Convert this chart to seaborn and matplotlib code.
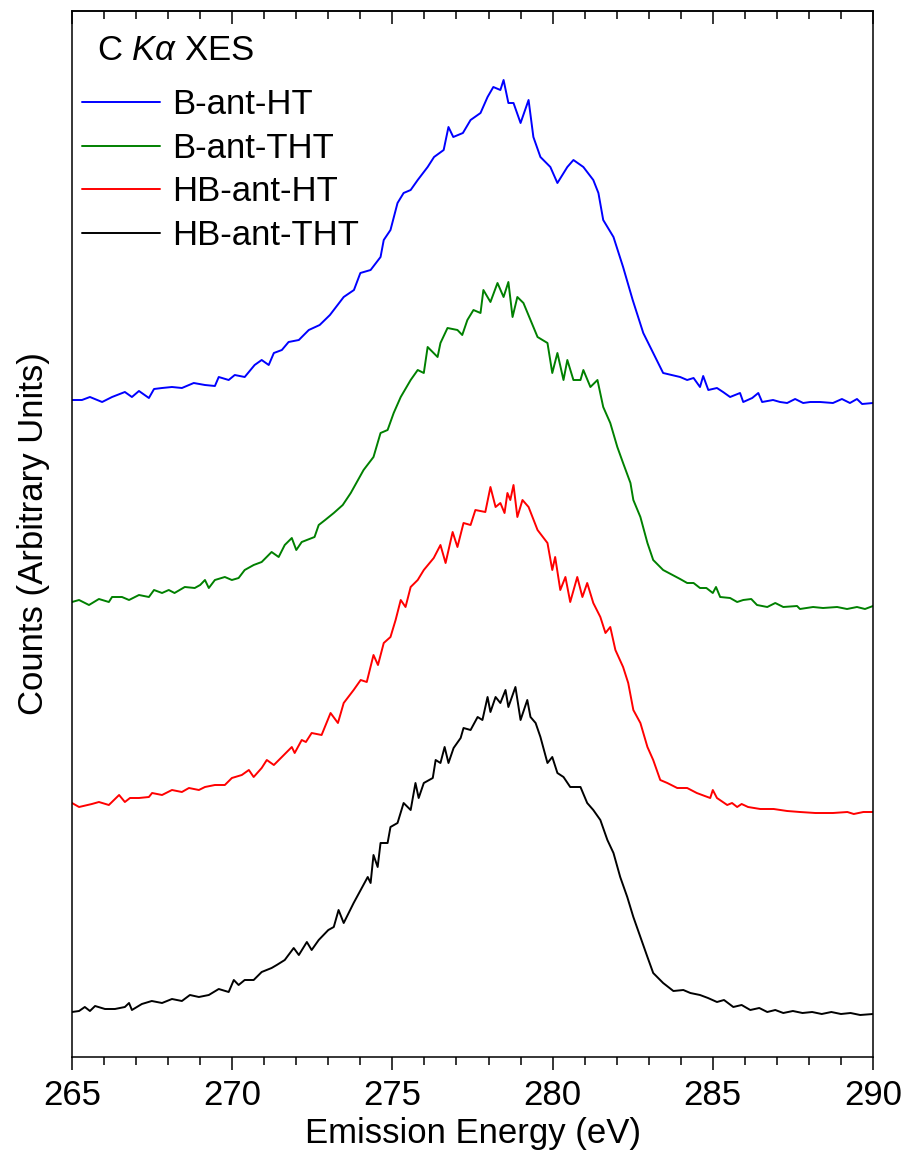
import numpy as np
import pandas as pd
import matplotlib
matplotlib.use("Agg")
import matplotlib.pyplot as plt
from matplotlib.ticker import MultipleLocator
import seaborn as sns

# ---------------- data (arbitrary units) ----------------
samples = ["B-ant-HT", "B-ant-THT", "HB-ant-HT", "HB-ant-THT"]
colors = ["#0000FF", "#008000", "#FF0000", "#000000"]

e_b_ht = [265.0, 265.31, 265.56, 265.94, 266.25, 266.65, 266.87, 267.09, 267.4, 267.56,
          267.81, 268.12, 268.43, 268.8, 269.15, 269.46, 269.58, 269.89, 270.08, 270.39,
          270.7, 270.92, 271.14, 271.3, 271.55, 271.76, 272.08, 272.39, 272.73, 273.05,
          273.48, 273.8, 274.0, 274.32, 274.63, 274.73, 274.94, 275.16, 275.35, 275.57,
          275.79, 276.1, 276.3, 276.6, 276.75, 276.9, 277.2, 277.44, 277.75, 277.97,
          278.15, 278.37, 278.47, 278.62, 278.78, 279.0, 279.25, 279.4, 279.62, 279.93,
          280.15, 280.46, 280.65, 280.96, 281.27, 281.43, 281.58, 281.9, 282.2, 282.5,
          282.83, 283.14, 283.45, 283.98, 284.2, 284.4, 284.6, 284.7, 284.86, 285.13,
          285.32, 285.54, 285.85, 285.95, 286.23, 286.42, 286.54, 286.88, 287.1, 287.32,
          287.57, 287.82, 288.04, 288.35, 288.75, 289.03, 289.28, 289.5, 289.66, 290.0]
c_b_ht = [657, 657, 660, 655, 660, 665, 660, 666, 659, 668,
          669, 670, 669, 674, 672, 671, 680, 677, 682, 680,
          692, 697, 692, 704, 707, 715, 717, 727, 732, 742,
          760, 767, 784, 787, 800, 817, 827, 854, 864, 867,
          877, 890, 900, 907, 930, 920, 924, 937, 944, 960,
          970, 967, 977, 954, 954, 934, 957, 920, 900, 890,
          874, 890, 897, 890, 877, 864, 837, 820, 790, 757,
          724, 704, 684, 680, 677, 679, 670, 681, 667, 669,
          665, 660, 664, 655, 659, 664, 655, 657, 655, 654,
          658, 654, 655, 655, 654, 658, 654, 658, 653, 654]

e_b_tht = [265.0, 265.22, 265.53, 265.84, 266.15, 266.25, 266.56, 266.78, 267.09, 267.4,
           267.56, 267.81, 268.02, 268.2, 268.52, 268.83, 269.0, 269.15, 269.27, 269.46,
           269.77, 269.99, 270.2, 270.39, 270.67, 270.92, 271.23, 271.45, 271.64, 271.86,
           272.0, 272.17, 272.57, 272.7, 272.9, 273.17, 273.45, 273.7, 274.1, 274.41,
           274.63, 274.85, 275.04, 275.26, 275.57, 275.79, 275.98, 276.1, 276.41, 276.5,
           276.72, 277.03, 277.18, 277.34, 277.53, 277.75, 277.84, 278.06, 278.28, 278.47,
           278.62, 278.75, 278.9, 279.09, 279.31, 279.53, 279.84, 279.99, 280.15, 280.34,
           280.46, 280.65, 280.87, 280.96, 281.18, 281.4, 281.58, 281.8, 282.02, 282.2,
           282.43, 282.52, 282.74, 282.96, 283.14, 283.45, 283.98, 284.2, 284.4, 284.6,
           284.8, 285.0, 285.1, 285.23, 285.54, 285.76, 285.95, 286.2, 286.38, 286.7,
           286.95, 287.2, 287.63, 287.72, 288.13, 288.44, 288.88, 289.19, 289.5, 289.75,
           290.0]
c_b_tht = [455, 457, 452, 458, 455, 460, 460, 457, 462, 460,
           467, 464, 467, 464, 470, 469, 472, 477, 469, 477,
           480, 477, 479, 487, 492, 495, 505, 500, 512, 519,
           507, 515, 520, 532, 537, 544, 552, 564, 587, 600,
           624, 627, 644, 660, 677, 687, 684, 710, 700, 714,
           729, 727, 722, 737, 747, 744, 767, 755, 774, 760,
           775, 740, 760, 754, 737, 720, 714, 684, 704, 677,
           697, 677, 677, 687, 670, 677, 650, 634, 610, 594,
           574, 557, 540, 514, 497, 487, 478, 474, 474, 469,
           469, 464, 470, 460, 459, 455, 457, 458, 452, 450,
           454, 450, 451, 448, 450, 449, 450, 448, 450, 448,
           451]

e_hb_ht = [265.0, 265.22, 265.62, 265.84, 266.15, 266.47, 266.65, 266.81, 267.09, 267.4,
           267.5, 267.81, 268.12, 268.43, 268.65, 268.96, 269.15, 269.46, 269.77, 269.99,
           270.3, 270.52, 270.67, 270.92, 271.08, 271.3, 271.55, 271.86, 271.95, 272.17,
           272.3, 272.48, 272.79, 273.07, 273.3, 273.48, 273.79, 274.01, 274.2, 274.41,
           274.55, 274.73, 274.94, 275.1, 275.26, 275.41, 275.57, 275.79, 275.98, 276.29,
           276.5, 276.66, 276.88, 277.03, 277.22, 277.44, 277.59, 277.9, 278.06, 278.22,
           278.37, 278.5, 278.59, 278.68, 278.78, 278.9, 279.06, 279.25, 279.53, 279.84,
           279.99, 280.08, 280.24, 280.4, 280.55, 280.77, 280.93, 281.08, 281.27, 281.49,
           281.65, 281.8, 281.96, 282.2, 282.36, 282.52, 282.74, 282.96, 283.14, 283.36,
           283.58, 283.89, 284.2, 284.5, 284.75, 284.92, 285.0, 285.13, 285.45, 285.6,
           285.76, 285.9, 286.1, 286.48, 286.9, 287.32, 287.72, 288.2, 288.75, 289.2,
           289.4, 289.7, 290.0]
c_hb_ht = [254, 250, 253, 255, 252, 262, 255, 259, 259, 260,
           264, 262, 267, 265, 269, 267, 270, 272, 272, 279,
           282, 287, 280, 289, 297, 292, 300, 310, 304, 317,
           315, 324, 322, 344, 334, 354, 367, 377, 375, 402,
           392, 414, 420, 437, 457, 450, 470, 477, 487, 499,
           512, 494, 525, 510, 534, 532, 547, 545, 570, 550,
           554, 544, 564, 557, 572, 540, 557, 550, 527, 514,
           487, 500, 467, 480, 455, 480, 460, 474, 454, 440,
           424, 430, 407, 390, 374, 347, 334, 310, 297, 277,
           274, 269, 269, 264, 261, 259, 267, 259, 252, 254,
           250, 253, 250, 248, 248, 246, 245, 244, 244, 245,
           243, 245, 245]

e_hb_tht = [265.0, 265.22, 265.4, 265.56, 265.72, 266.03, 266.34, 266.65, 266.78, 266.87,
            267.18, 267.49, 267.81, 268.12, 268.43, 268.68, 268.96, 269.27, 269.58, 269.89,
            270.05, 270.2, 270.39, 270.67, 270.92, 271.23, 271.39, 271.64, 271.92, 272.08,
            272.33, 272.48, 272.7, 273.0, 273.17, 273.32, 273.48, 273.79, 274.01, 274.23,
            274.32, 274.41, 274.54, 274.63, 274.85, 274.94, 275.16, 275.35, 275.57, 275.72,
            275.82, 275.98, 276.26, 276.35, 276.5, 276.63, 276.75, 276.91, 277.13, 277.22,
            277.44, 277.66, 277.81, 277.97, 278.06, 278.22, 278.37, 278.53, 278.62, 278.84,
            279.0, 279.21, 279.31, 279.47, 279.62, 279.84, 279.99, 280.15, 280.34, 280.55,
            280.87, 281.08, 281.27, 281.49, 281.71, 281.9, 282.11, 282.33, 282.52, 282.74,
            282.96, 283.14, 283.45, 283.77, 284.08, 284.3, 284.6, 284.85, 285.13, 285.35,
            285.64, 285.9, 286.17, 286.45, 286.7, 286.95, 287.2, 287.5, 287.8, 288.1,
            288.4, 288.7, 289.0, 289.3, 289.6, 290.0]
c_hb_tht = [45, 46, 50, 46, 51, 48, 48, 50, 54, 47,
            53, 56, 54, 58, 56, 62, 60, 62, 68, 65,
            77, 72, 77, 77, 85, 89, 92, 97, 109, 102,
            115, 107, 117, 127, 130, 147, 134, 154, 167, 180,
            174, 202, 190, 214, 214, 230, 234, 254, 247, 274,
            259, 274, 279, 297, 294, 310, 294, 309, 319, 329,
            327, 340, 337, 360, 345, 360, 354, 367, 350, 370,
            337, 357, 340, 334, 320, 294, 300, 284, 280, 270,
            270, 254, 247, 237, 217, 204, 180, 160, 140, 120,
            100, 84, 74, 66, 67, 64, 62, 59, 55, 57,
            50, 52, 47, 49, 45, 47, 44, 46, 44, 45,
            43, 45, 43, 44, 42, 43]

x_ticks = [265, 270, 275, 280, 285, 290]
x_label = "Emission Energy (eV)"
y_label = "Counts (Arbitrary Units)"
title_text = r"C $K\alpha$ XES"

energies = [e_b_ht, e_b_tht, e_hb_ht, e_hb_tht]
counts = [c_b_ht, c_b_tht, c_hb_ht, c_hb_tht]

frames = []
for name, e, c in zip(samples, energies, counts):
    frames.append(pd.DataFrame({"energy": e, "counts": c, "sample": name}))
df = pd.concat(frames, ignore_index=True)

# ---------------- style ----------------
sns.set_theme(style="ticks")
plt.rcParams["font.family"] = ["Liberation Sans", "DejaVu Sans"]
plt.rcParams["mathtext.fontset"] = "custom"
plt.rcParams["mathtext.rm"] = "Liberation Sans"
plt.rcParams["mathtext.it"] = "Liberation Sans:italic"
plt.rcParams["axes.linewidth"] = 1.1
for k in ["text.color", "axes.labelcolor", "xtick.color", "ytick.color",
          "xtick.labelcolor", "ytick.labelcolor", "axes.edgecolor"]:
    plt.rcParams[k] = "black"

FS = 25

fig = plt.figure(figsize=(9.08, 11.63), dpi=100)
ax = fig.add_axes([72 / 908, (1163 - 1057) / 1163, (873 - 72) / 908, (1057 - 11) / 1163])

for name, col in zip(samples, colors):
    sns.lineplot(data=df[df["sample"] == name], x="energy", y="counts", ax=ax,
                 color=col, lw=1.4, estimator=None, sort=False, label=name)

ax.set_xlim(265, 290)
ax.set_ylim(0, 1046)
ax.set_xticks(x_ticks)
ax.xaxis.set_minor_locator(MultipleLocator(1))
ax.set_yticks([])
ax.tick_params(axis="x", which="major", direction="out", length=9.5, width=1.1,
               labelsize=FS, pad=6, colors="black")
ax.tick_params(axis="x", which="minor", direction="out", length=5.5, width=1.1)
for s in ax.spines.values():
    s.set_color("black")
    s.set_linewidth(1.1)

sec = ax.secondary_xaxis("top")
sec.set_xticks(x_ticks)
sec.xaxis.set_minor_locator(MultipleLocator(1))
sec.tick_params(axis="x", which="major", direction="in", length=9.5, width=1.1, labeltop=False)
sec.tick_params(axis="x", which="minor", direction="in", length=5.5, width=1.1)
sec.spines["top"].set_linewidth(1.1)

ax.set_xlabel(x_label, fontsize=FS, labelpad=4, color="black")
ax.set_ylabel(y_label, fontsize=FS, labelpad=16, color="black")

ax.text(0.031, 0.962, title_text, transform=ax.transAxes, fontsize=FS,
        ha="left", va="center", color="black")

handles, labels = ax.get_legend_handles_labels()
leg = ax.legend(handles, labels, loc="upper left", bbox_to_anchor=(0.0125, 0.926),
                frameon=False, fontsize=FS, handlelength=2.25, handletextpad=0.35,
                labelspacing=0.3, borderpad=0, borderaxespad=0)
for t in leg.get_texts():
    t.set_color("black")

fig.savefig("out.png", dpi=100)
